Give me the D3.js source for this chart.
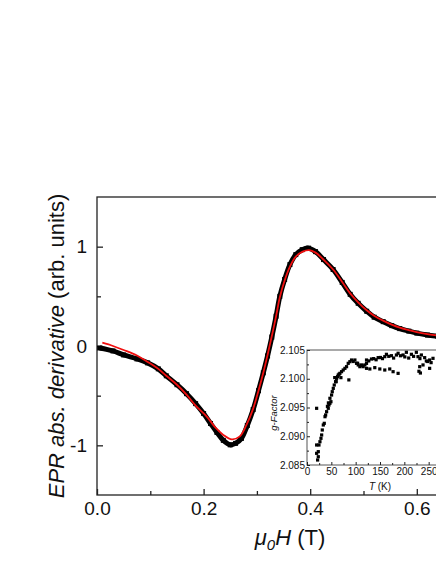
<!DOCTYPE html>
<html>
<head>
    <meta charset="utf-8" />
    <script src="https://d3js.org/d3.v7.min.js"></script>
    <style>
        body { margin: 0; background: #fff; }
        svg { display: block; font-family: "Liberation Sans", Arial, sans-serif; }
        .axis path, .axis line { stroke: #222; }
    </style>
</head>
<body>
    <script>
        // main spectrum: field (T) and EPR derivative, measured data
        var dataH = [0.005, 0.03, 0.05, 0.075, 0.095, 0.115, 0.13, 0.15, 0.168, 0.185, 0.2, 0.213, 0.225, 0.237, 0.25, 0.26,
            0.271, 0.282, 0.293, 0.303, 0.312, 0.32, 0.328, 0.336, 0.343, 0.352, 0.362, 0.373, 0.385, 0.397, 0.41, 0.425,
            0.443, 0.46, 0.475, 0.49, 0.506, 0.52, 0.537, 0.553, 0.568, 0.585, 0.6, 0.62, 0.64, 0.66, 0.68, 0.7];
        var dataV = [-0.02, -0.05, -0.09, -0.13, -0.17, -0.23, -0.30, -0.39, -0.48, -0.58, -0.68, -0.78, -0.87, -0.95, -0.995, -0.98,
            -0.93, -0.80, -0.64, -0.45, -0.27, -0.10, 0.09, 0.30, 0.50, 0.67, 0.82, 0.92, 0.97, 0.985, 0.95, 0.87,
            0.77, 0.64, 0.52, 0.43, 0.35, 0.29, 0.245, 0.205, 0.175, 0.15, 0.13, 0.11, 0.097, 0.085, 0.075, 0.068];

        // fit curve
        var fitH = [0.01, 0.03, 0.05, 0.075, 0.095, 0.115, 0.13, 0.15, 0.168, 0.185, 0.206, 0.222, 0.237, 0.253, 0.268, 0.28,
            0.293, 0.303, 0.312, 0.32, 0.328, 0.336, 0.343, 0.352, 0.362, 0.373, 0.386, 0.398, 0.41, 0.425, 0.443, 0.46,
            0.475, 0.49, 0.506, 0.52, 0.537, 0.553, 0.568, 0.585, 0.6, 0.62, 0.64, 0.66, 0.68, 0.7];
        var fitV = [0.033, 0.0, -0.04, -0.095, -0.16, -0.23, -0.30, -0.39, -0.49, -0.60, -0.71, -0.82, -0.895, -0.94, -0.91, -0.80,
            -0.63, -0.45, -0.27, -0.09, 0.10, 0.30, 0.49, 0.66, 0.80, 0.90, 0.95, 0.965, 0.94, 0.87, 0.77, 0.645,
            0.53, 0.44, 0.36, 0.305, 0.255, 0.215, 0.185, 0.16, 0.14, 0.12, 0.105, 0.09, 0.08, 0.07];

        var xTicks = [0, 0.2, 0.4, 0.6];
        var xTickLabels = ["0.0", "0.2", "0.4", "0.6"];
        var xMinor = [0.1, 0.3, 0.5, 0.7];
        var yTicks = [-1, 0, 1];
        var yTickLabels = ["-1", "0", "1"];
        var yMinor = [-0.5, 0.5];

        // inset: g-factor vs temperature
        var insetT = [19.8, 21.8, 23.2, 19.8, 23.2, 24.6, 19.8, 26.6, 28.7, 30.1, 31.4, 33.5, 35.5, 37, 38.3, 40.3, 43.7, 45.1,
            47.1, 49.2, 47.1, 50.5, 51.9, 54, 56, 58.7, 60.8, 62.8, 64.2, 67.6, 71, 69.7, 74.4, 77.9, 81.3, 84.7, 88.1, 91.5,
            98.4, 101.8, 105.2, 108.6, 112, 115.4, 118.9, 122.3, 86, 42, 44, 57, 66, 60,
            122.3, 132.5, 146.2, 159.8, 163.2, 173.5, 183.7, 187.2, 197.4, 204.2, 214.5, 224.7, 228.1, 235, 241.8, 245.2,
            252, 258.9, 127, 137, 142, 151, 155, 168, 178, 192, 201, 209, 219, 232, 248, 255,
            122.3, 129.1, 139.3, 149.6, 159.8, 170, 176.9, 187.2, 231.6, 238.4, 252, 230, 233, 95, 104, 113];
        var insetG = [2.09486, 2.08587, 2.08644, 2.08703, 2.08732, 2.08848, 2.08848, 2.08905, 2.08964, 2.09022, 2.09109, 2.09196,
            2.09225, 2.0934, 2.0937, 2.09427, 2.09486, 2.09543, 2.09573, 2.09601, 2.0966, 2.09717, 2.09775, 2.09833, 2.09891,
            2.09949, 2.10007, 2.10036, 2.10065, 2.10094, 2.10123, 2.10019, 2.10152, 2.10181, 2.1021, 2.10268, 2.10297, 2.10326,
            2.10326, 2.10268, 2.1024, 2.1021, 2.1024, 2.1021, 2.1024, 2.10268, 2.0998, 2.0952, 2.0958, 2.1002, 2.1008, 2.0995,
            2.10326, 2.10343, 2.10367, 2.10384, 2.10425, 2.10401, 2.10413, 2.10443, 2.10413, 2.1046, 2.10425, 2.1046,
            2.10384, 2.10413, 2.10367, 2.10309, 2.10326, 2.10355, 2.1031, 2.1035, 2.1033, 2.1037, 2.1035, 2.1039, 2.1036,
            2.1040, 2.1038, 2.1036, 2.1039, 2.1035, 2.1030, 2.1028,
            2.10181, 2.1017, 2.10193, 2.1017, 2.10152, 2.1017, 2.10123, 2.10094, 2.1021, 2.1024, 2.10181, 2.1013, 2.1010,
            2.1030, 2.1027, 2.1023];

        var insetXTicks = [0, 50, 100, 150, 200, 250];
        var insetXMinor = [25, 75, 125, 175, 225, 275];
        var insetYTicks = [2.085, 2.09, 2.095, 2.1, 2.105];
        var insetYMinor = [2.0875, 2.0925, 2.0975, 2.1025];

        var width = 436, height = 564;
        var svg = d3.select("body").append("svg")
            .attr("width", width)
            .attr("height", height);

        var x = d3.scaleLinear().domain([0, 0.72]).range([97, 97 + 0.72 * 533]);
        var y = d3.scaleLinear().domain([-1.5, 1.5]).range([495, 197]);

        // frame
        svg.append("rect")
            .attr("x", x(0)).attr("y", y(1.5))
            .attr("width", x(0.72) - x(0)).attr("height", y(-1.5) - y(1.5))
            .attr("fill", "none").attr("stroke", "#222").attr("stroke-width", 1.3);

        var xAxis = svg.append("g").attr("class", "axis")
            .attr("transform", "translate(0," + y(-1.5) + ")")
            .call(d3.axisBottom(x).tickValues(xTicks).tickSize(-6).tickPadding(7)
                .tickFormat(function (d, i) { return xTickLabels[i]; }));
        xAxis.select(".domain").remove();
        xAxis.selectAll("text").attr("font-size", 19).attr("fill", "#111").attr("font-family", "Liberation Sans, Arial, sans-serif");
        xAxis.selectAll("line").attr("stroke-width", 1.3);
        svg.append("g").attr("class", "axis")
            .attr("transform", "translate(0," + y(-1.5) + ")")
            .call(d3.axisBottom(x).tickValues(xMinor).tickSize(-4).tickFormat(""))
            .call(function (g) { g.select(".domain").remove(); g.selectAll("line").attr("stroke-width", 1.3); });

        var yAxis = svg.append("g").attr("class", "axis")
            .attr("transform", "translate(" + x(0) + ",0)")
            .call(d3.axisLeft(y).tickValues(yTicks).tickSize(-6).tickPadding(10)
                .tickFormat(function (d, i) { return yTickLabels[i]; }));
        yAxis.select(".domain").remove();
        yAxis.selectAll("text").attr("font-size", 19).attr("fill", "#111").attr("font-family", "Liberation Sans, Arial, sans-serif");
        yAxis.selectAll("line").attr("stroke-width", 1.3);
        svg.append("g").attr("class", "axis")
            .attr("transform", "translate(" + x(0) + ",0)")
            .call(d3.axisLeft(y).tickValues(yMinor).tickSize(-4).tickFormat(""))
            .call(function (g) { g.select(".domain").remove(); g.selectAll("line").attr("stroke-width", 1.3); });

        // axis titles
        var yl = svg.append("text")
            .attr("transform", "translate(64," + y(0) + ") rotate(-90)")
            .attr("text-anchor", "middle")
            .attr("font-size", 22)
            .attr("fill", "#111");
        yl.append("tspan").attr("font-style", "italic").text("EPR abs. derivative");
        yl.append("tspan").text(" (arb. units)");

        var xl = svg.append("text")
            .attr("x", 290).attr("y", 545)
            .attr("text-anchor", "middle")
            .attr("font-size", 22)
            .attr("fill", "#111");
        xl.append("tspan").attr("font-style", "italic").text("\u03bc");
        xl.append("tspan").attr("font-style", "italic").attr("font-size", 15).attr("dy", 5).text("0");
        xl.append("tspan").attr("font-style", "italic").attr("dy", -5).text("H");
        xl.append("tspan").text(" (T)");

        // curves
        svg.append("clipPath").attr("id", "plotclip")
            .append("rect").attr("x", x(0)).attr("y", y(1.5))
            .attr("width", x(0.72) - x(0)).attr("height", y(-1.5) - y(1.5));

        var dataPts = dataH.map(function (h, i) { return [h, dataV[i]]; });
        var fitPts = fitH.map(function (h, i) { return [h, fitV[i]]; });
        var line = d3.line()
            .x(function (d) { return x(d[0]); })
            .y(function (d) { return y(d[1]); })
            .curve(d3.curveCatmullRom);

        var plot = svg.append("g").attr("clip-path", "url(#plotclip)");
        plot.append("path").datum(dataPts)
            .attr("d", line)
            .attr("fill", "none")
            .attr("stroke", "#000")
            .attr("stroke-width", 5)
            .attr("stroke-linejoin", "round");
        plot.selectAll(".pt").data(dataPts).enter().append("rect")
            .attr("class", "pt")
            .attr("x", function (d) { return x(d[0]) - 2.5; })
            .attr("y", function (d) { return y(d[1]) - 2.5; })
            .attr("width", 5).attr("height", 5)
            .attr("fill", "#000");
        plot.append("path").datum(fitPts)
            .attr("d", line)
            .attr("fill", "none")
            .attr("stroke", "#f01010")
            .attr("stroke-width", 1.8);

        // inset
        var ix = d3.scaleLinear().domain([0, 300]).range([307, 453]);
        var iy = d3.scaleLinear().domain([2.085, 2.105]).range([465, 350]);

        svg.append("rect")
            .attr("x", ix(0)).attr("y", iy(2.105))
            .attr("width", ix(300) - ix(0)).attr("height", iy(2.085) - iy(2.105))
            .attr("fill", "#fff").attr("stroke", "#555").attr("stroke-width", 1);

        var ixAxis = svg.append("g").attr("class", "axis")
            .attr("transform", "translate(0," + iy(2.085) + ")")
            .call(d3.axisBottom(ix).tickValues(insetXTicks).tickSize(-3).tickPadding(3));
        ixAxis.select(".domain").remove();
        ixAxis.selectAll("text").attr("font-size", 10).attr("fill", "#111").attr("font-family", "Liberation Sans, Arial, sans-serif");
        svg.append("g").attr("class", "axis")
            .attr("transform", "translate(0," + iy(2.085) + ")")
            .call(d3.axisBottom(ix).tickValues(insetXMinor).tickSize(-2).tickFormat(""))
            .call(function (g) { g.select(".domain").remove(); });

        var iyAxis = svg.append("g").attr("class", "axis")
            .attr("transform", "translate(" + ix(0) + ",0)")
            .call(d3.axisLeft(iy).tickValues(insetYTicks).tickSize(-3).tickPadding(2)
                .tickFormat(d3.format(".3f")));
        iyAxis.select(".domain").remove();
        iyAxis.selectAll("text").attr("font-size", 10).attr("fill", "#111").attr("font-family", "Liberation Sans, Arial, sans-serif");
        svg.append("g").attr("class", "axis")
            .attr("transform", "translate(" + ix(0) + ",0)")
            .call(d3.axisLeft(iy).tickValues(insetYMinor).tickSize(-2).tickFormat(""))
            .call(function (g) { g.select(".domain").remove(); });

        svg.append("text")
            .attr("transform", "translate(277," + 413 + ") rotate(-90)")
            .attr("text-anchor", "middle")
            .attr("font-size", 9.5)
            .attr("font-style", "italic")
            .attr("fill", "#111")
            .text("g-Factor");

        var tl = svg.append("text")
            .attr("x", 380).attr("y", 490)
            .attr("text-anchor", "middle")
            .attr("font-size", 10)
            .attr("fill", "#111");
        tl.append("tspan").attr("font-style", "italic").text("T");
        tl.append("tspan").text(" (K)");

        svg.selectAll(".ipt").data(insetT).enter().append("rect")
            .attr("class", "ipt")
            .attr("x", function (d) { return ix(d) - 1.6; })
            .attr("y", function (d, i) { return iy(insetG[i]) - 1.6; })
            .attr("width", 3.2).attr("height", 3.2)
            .attr("fill", "#000");
    </script>
</body>
</html>
